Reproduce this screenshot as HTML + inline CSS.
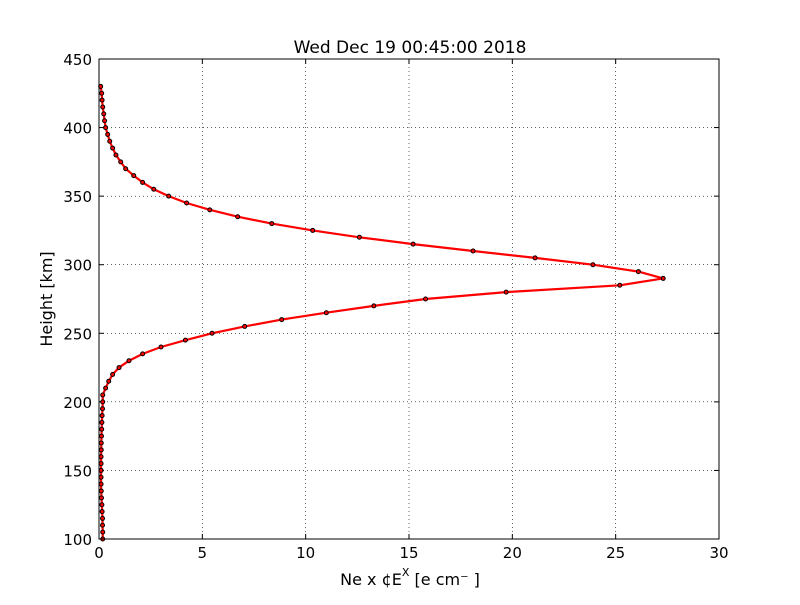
<!DOCTYPE html>
<html><head><meta charset="utf-8"><style>
body{margin:0;background:#fff}
svg text{font-family:"DejaVu Sans","Liberation Sans",sans-serif}
</style></head><body>
<svg id="c" width="800" height="600" xmlns="http://www.w3.org/2000/svg">
<rect width="800" height="600" fill="#fff"/>
<text x="410" y="53" font-size="17" text-anchor="middle">Wed Dec 19 00:45:00 2018</text>
<text x="410" y="585" font-size="16" text-anchor="middle">Ne x ¢E<tspan dy="-9" font-size="11">X</tspan><tspan dy="9">  [e cm⁻ ]</tspan></text>
<text transform="translate(52,299) rotate(-90)" font-size="16" text-anchor="middle">Height [km]</text>
<g id="grid"></g><g id="series"></g>
<rect x="99" y="59" width="620" height="480" fill="none" stroke="#000" stroke-width="1"/>
</svg>
<script>
const heights=[100,105,110,115,120,125,130,135,140,145,150,155,160,165,170,175,180,185,190,195,200,205,210,215,220,225,230,235,240,245,250,255,260,265,270,275,280,285,290,295,300,305,310,315,320,325,330,335,340,345,350,355,360,365,370,375,380,385,390,395,400,405,410,415,420,425,430];
const density=[0.18,0.18,0.17,0.17,0.15,0.14,0.12,0.11,0.1,0.1,0.1,0.1,0.1,0.11,0.11,0.12,0.13,0.14,0.15,0.17,0.18,0.18,0.32,0.47,0.66,0.97,1.45,2.11,3.0,4.18,5.47,7.05,8.84,11.0,13.3,15.8,19.7,25.2,27.3,26.1,23.9,21.1,18.1,15.2,12.6,10.34,8.36,6.71,5.36,4.24,3.37,2.65,2.11,1.68,1.29,1.05,0.82,0.66,0.52,0.42,0.32,0.27,0.23,0.18,0.15,0.13,0.08];
const xTicks=[0,5,10,15,20,25,30];
const yTicks=[100,150,200,250,300,350,400,450];
const X0=99,X1=719,Y0=539,Y1=59;
const sx=v=>X0+(v-0)/30*(X1-X0);
const sy=v=>Y0-(v-100)/350*(Y0-Y1);
const NS="http://www.w3.org/2000/svg";
const g=document.getElementById('grid'),s=document.getElementById('series');
function mk(tag,at,par){const e=document.createElementNS(NS,tag);for(const k in at)e.setAttribute(k,at[k]);par.appendChild(e);return e;}
xTicks.forEach(t=>{const x=sx(t);
 const l=mk('line',{x1:x,x2:x,y1:Y1,y2:Y0,stroke:'#000','stroke-width':0.6,'stroke-dasharray':'1,3'},g);
 
 
 mk('line',{x1:x,x2:x,y1:Y0,y2:Y0-5,stroke:'#000'},g);
 mk('line',{x1:x,x2:x,y1:Y1,y2:Y1+5,stroke:'#000'},g);
 const tx=mk('text',{x:x,y:Y0+19,'font-size':15,'text-anchor':'middle'},g);tx.textContent=t;
 
 
});
yTicks.forEach(t=>{const y=sy(t);
 const l=mk('line',{x1:X0,x2:X1,y1:y,y2:y,stroke:'#000','stroke-width':0.6,'stroke-dasharray':'1,3'},g);
 
 
 mk('line',{x1:X0,x2:X0+5,y1:y,y2:y,stroke:'#000'},g);
 mk('line',{x1:X1,x2:X1-5,y1:y,y2:y,stroke:'#000'},g);
 const tx=mk('text',{x:X0-7,y:y+6,'font-size':15,'text-anchor':'end'},g);tx.textContent=t;
 
 
});
const pts=heights.map((h,i)=>sx(density[i])+','+sy(h)).join(' ');
const pl=mk('polyline',{points:pts,fill:'none',stroke:'#f00','stroke-width':2.2,'stroke-linejoin':'round'},s);


heights.forEach((h,i)=>{const c=mk('circle',{cx:sx(density[i]),cy:sy(h),r:2,fill:'#f00',stroke:'#000','stroke-width':1},s);
 
 
});
</script>
</body></html>
